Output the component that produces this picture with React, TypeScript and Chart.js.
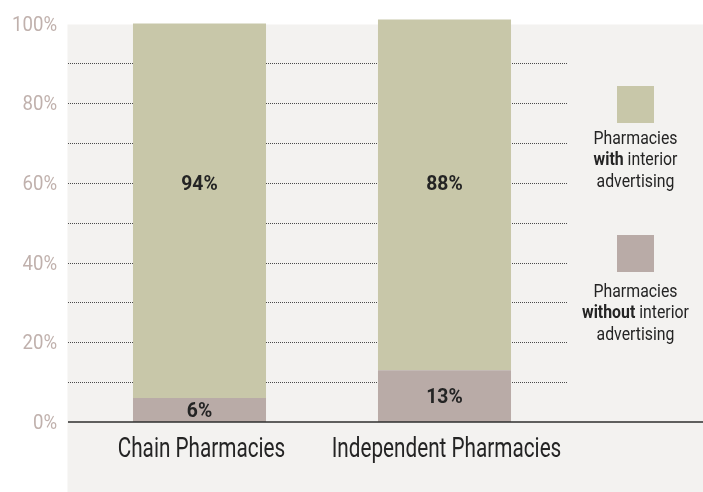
import React, { useEffect, useRef } from "react";
import { Chart, registerables } from "chart.js";

Chart.register(...registerables);

const categories = ["Chain Pharmacies", "Independent Pharmacies"];
const withoutAdvertising = [6, 13];
const withAdvertising = [94, 88];
const seriesLabels = ["Pharmacies without interior advertising", "Pharmacies with interior advertising"];
const yTickValues = [0, 20, 40, 60, 80, 100];

// Legend text lines: [boldPart, regularPart]
const legendWithLines: [string, string][] = [["", "Pharmacies"], ["with", " interior"], ["", "advertising"]];
const legendWithoutLines: [string, string][] = [["", "Pharmacies"], ["without", " interior"], ["", "advertising"]];

const GREEN = "#c8c7a9";
const MAUVE = "#b9aba7";
const PANEL = "#f3f2f0";
const TEXT = "#242424";
const TICK = "#c0b1ad";
const FONT = "Roboto, 'Noto Sans', sans-serif";

function narrowText(ctx: any, text: string, x: number, y: number, font: string, sx: number, align: "left" | "center" | "right") {
  ctx.save();
  ctx.font = font;
  ctx.textBaseline = "alphabetic";
  ctx.textAlign = align;
  ctx.translate(x, y);
  ctx.scale(sx, 1);
  ctx.fillText(text, 0, 0);
  ctx.restore();
}

export default function App() {
  const ref = useRef<HTMLCanvasElement | null>(null);

  useEffect(() => {
    document.body.style.margin = "0";
    const canvas = ref.current;
    if (!canvas) return;

    const panelPlugin = {
      id: "panel",
      beforeDraw(chart: any) {
        const { ctx } = chart;
        const y = chart.scales.y;
        ctx.save();
        ctx.fillStyle = PANEL;
        const top = y.getPixelForValue(100) + 1;
        ctx.fillRect(67.5, top, chart.width - 67.5, chart.height - top);
        ctx.restore();
      },
      beforeDatasetsDraw(chart: any) {
        const { ctx, chartArea } = chart;
        const y = chart.scales.y;
        ctx.save();
        ctx.strokeStyle = "#4a4a4a";
        ctx.lineWidth = 1;
        ctx.setLineDash([1, 1]);
        for (let v = 10; v < 100; v += 10) {
          const py = Math.round(y.getPixelForValue(v)) + 0.5;
          ctx.beginPath();
          ctx.moveTo(68, py);
          ctx.lineTo(chartArea.right, py);
          ctx.stroke();
        }
        ctx.restore();
      },
      afterDatasetsDraw(chart: any) {
        const { ctx } = chart;
        const y = chart.scales.y;
        const x = chart.scales.x;
        ctx.save();
        // axis line at 0
        const py0 = y.getPixelForValue(0);
        ctx.strokeStyle = "#2e2e2e";
        ctx.lineWidth = 1.6;
        ctx.beginPath();
        ctx.moveTo(68, py0);
        ctx.lineTo(chart.width, py0);
        ctx.stroke();

        // y tick labels
        ctx.fillStyle = TICK;
        y.ticks.forEach((t: any) => {
          const py = y.getPixelForValue(t.value);
          narrowText(ctx, `${t.value}%`, 57, py + 7, `20px ${FONT}`, 0.93, "right");
        });

        // x category labels
        ctx.fillStyle = TEXT;
        chart.data.labels.forEach((lab: string, i: number) => {
          narrowText(ctx, lab, x.getPixelForValue(i) + 2, 457, `28px ${FONT}`, 0.74, "center");
        });

        // data labels
        chart.data.datasets.forEach((ds: any, di: number) => {
          const meta = chart.getDatasetMeta(di);
          meta.data.forEach((bar: any, i: number) => {
            const val = ds.data[i];
            const cy = di === 0 ? (bar.y + bar.base) / 2 : y.getPixelForValue(60);
            ctx.fillStyle = TEXT;
            narrowText(ctx, `${val}%`, bar.x, cy + 7, `bold 21px ${FONT}`, 0.92, "center");
          });
        });

        // legend
        const drawLegend = (color: string, top: number, baseline: number, lines: [string, string][]) => {
          const cx = 635.5;
          const sx = 0.88;
          ctx.fillStyle = color;
          ctx.fillRect(cx - 18.5, top, 37, 37);
          lines.forEach(([b, r], li) => {
            const ly = baseline + li * 21.5;
            ctx.font = `bold 18px ${FONT}`;
            const wb = b ? ctx.measureText(b).width * sx : 0;
            ctx.font = `18px ${FONT}`;
            const wr = ctx.measureText(r).width * sx;
            let lx = cx - (wb + wr) / 2;
            ctx.fillStyle = TEXT;
            if (b) {
              narrowText(ctx, b, lx, ly, `bold 18px ${FONT}`, sx, "left");
              lx += wb;
            }
            narrowText(ctx, r, lx, ly, `18px ${FONT}`, sx, "left");
          });
        };
        drawLegend(GREEN, 86, 143.5, legendWithLines);
        drawLegend(MAUVE, 235, 296.5, legendWithoutLines);
        ctx.restore();
      },
    };

    const chart = new Chart(canvas, {
      type: "bar",
      data: {
        labels: categories,
        datasets: [
          {
            label: seriesLabels[0],
            data: withoutAdvertising,
            backgroundColor: MAUVE,
            borderWidth: 0,
            categoryPercentage: 1,
            barPercentage: 0.543,
            clip: false as any,
          },
          {
            label: seriesLabels[1],
            data: withAdvertising,
            backgroundColor: GREEN,
            borderWidth: 0,
            categoryPercentage: 1,
            barPercentage: 0.543,
            clip: false as any,
          },
        ],
      },
      options: {
        animation: false,
        responsive: false,
        devicePixelRatio: 1,
        layout: { padding: { top: 23.5, right: 136, left: 0, bottom: 0 } },
        plugins: { legend: { display: false }, tooltip: { enabled: false } },
        scales: {
          x: {
            stacked: true,
            grid: { display: false, drawTicks: false },
            border: { display: false },
            ticks: { display: false, autoSkip: false },
            afterFit(scale: any) {
              scale.height = 70;
            },
          },
          y: {
            stacked: true,
            min: 0,
            max: 100,
            grid: { display: false, drawTicks: false },
            border: { display: false },
            afterBuildTicks(scale: any) {
              scale.ticks = yTickValues.map((v) => ({ value: v }));
            },
            ticks: { display: false },
            afterFit(scale: any) {
              scale.width = 77;
            },
          },
        },
      },
      plugins: [panelPlugin],
    });

    return () => chart.destroy();
  }, []);

  return (
    <div style={{ width: 703, height: 492 }}>
      <canvas ref={ref} width={703} height={492} style={{ display: "block" }} />
    </div>
  );
}
